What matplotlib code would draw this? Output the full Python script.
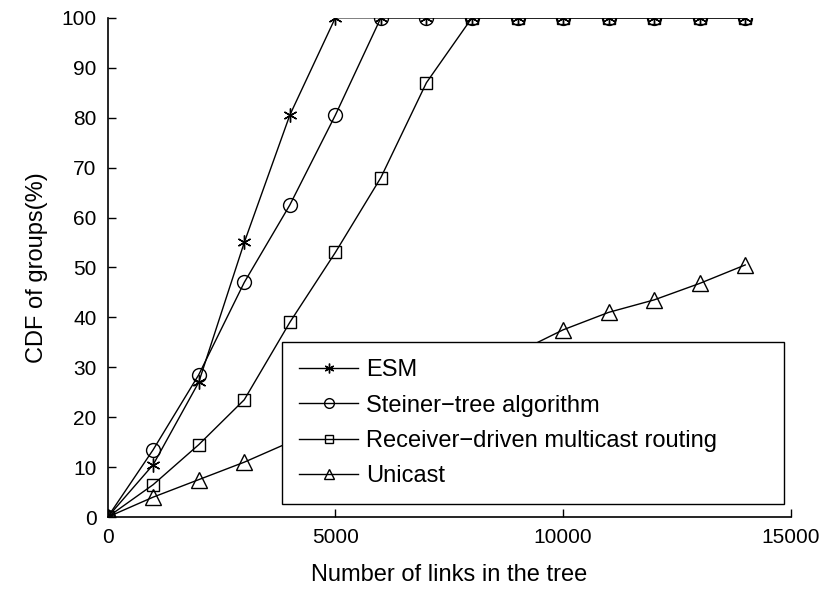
"""
CDF of groups vs. number of links in the tree.
"""

import matplotlib

matplotlib.use("Agg")

import matplotlib.pyplot as plt

plt.rcParams["font.family"] = ["Liberation Sans", "DejaVu Sans"]

# ============================================================
# Data
# ============================================================

links = [0, 1000, 2000, 3000, 4000, 5000, 6000, 7000,
         8000, 9000, 10000, 11000, 12000, 13000, 14000]

esm = [0, 10.5, 27, 55, 80.5, 100, 100, 100,
       100, 100, 100, 100, 100, 100, 100]

steiner = [0, 13.5, 28.5, 47, 62.5, 80.5, 100, 100,
           100, 100, 100, 100, 100, 100, 100]

receiver = [0, 6.5, 14.5, 23.5, 39, 53, 68, 87,
            100, 100, 100, 100, 100, 100, 100]

unicast = [0, 4, 7.5, 11, 15, 18.5, 22, 25.5,
           29, 33, 37.5, 41, 43.5, 46.8, 50.5]

x_ticks = [0, 5000, 10000, 15000]
y_ticks = [0, 10, 20, 30, 40, 50, 60, 70, 80, 90, 100]

# ============================================================
# Plot
# ============================================================

fig = plt.figure(figsize=(8.28, 5.93), dpi=100)
ax = fig.add_axes([0.130, 0.128, 0.825, 0.842])

line_kw = dict(color="black", linewidth=1.0, markerfacecolor="none",
               markeredgecolor="black", markeredgewidth=1.0)

ax.plot(links, esm, marker=(6, 2, 0), markersize=10,
        label="ESM", **line_kw)
ax.plot(links, steiner, marker="o", markersize=10,
        label="Steiner\u2212tree algorithm", **line_kw)
ax.plot(links, receiver, marker="s", markersize=9,
        label="Receiver\u2212driven multicast routing", **line_kw)
ax.plot(links, unicast, marker="^", markersize=11,
        label="Unicast", **line_kw)

ax.set_xlim(0, 15000)
ax.set_ylim(0, 100)
ax.set_xticks(x_ticks)
ax.set_yticks(y_ticks)

ax.spines["top"].set_visible(False)
ax.spines["right"].set_visible(False)
for side in ("left", "bottom"):
    ax.spines[side].set_linewidth(1.2)
    ax.spines[side].set_clip_on(False)

ax.tick_params(direction="in", length=6, width=1.0,
               labelsize=15, pad=8)

ax.set_xlabel("Number of links in the tree", fontsize=17, labelpad=12)
ax.set_ylabel("CDF of groups(%)", fontsize=17, labelpad=10)

legend = ax.legend(
    loc="lower left",
    bbox_to_anchor=(0.2555, 0.026, 0.734, 0.323),
    mode="expand",
    borderaxespad=0,
    fontsize=17,
    markerscale=0.7,
    fancybox=False,
    framealpha=1.0,
    edgecolor="black",
    borderpad=0.72,
    labelspacing=0.56,
    handlelength=2.5,
    handletextpad=0.35,
)
legend.get_frame().set_linewidth(1.0)

fig.savefig("out.png", dpi=100)
